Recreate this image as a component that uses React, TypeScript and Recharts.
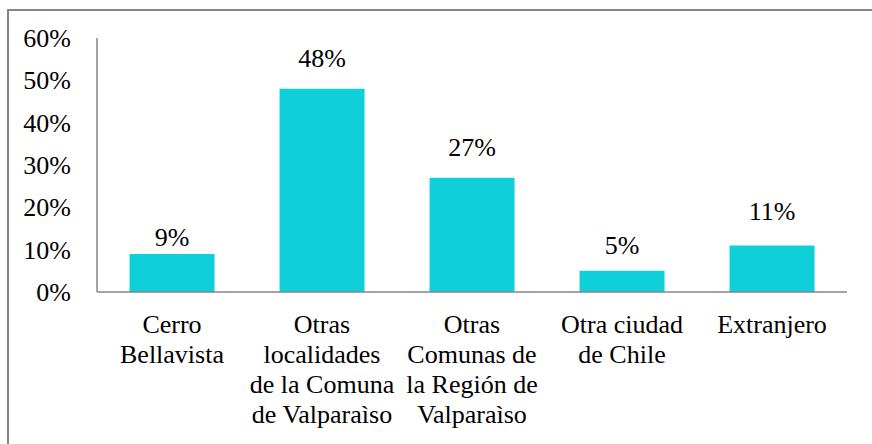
import React from 'react';
import { BarChart, Bar, XAxis, YAxis, LabelList } from 'recharts';

const FONT = '"Times New Roman", Times, "Liberation Serif", Tinos, "Noto Serif", "DejaVu Serif", serif';
const BAR_COLOR = '#0fd0d9';
const AXIS_COLOR = '#868686';

// categories (lines of each label) and values in percent
const categories = [
  'Cerro Bellavista',
  'Otras localidades de la Comuna de Valparaìso',
  'Otras Comunas de la Región de Valparaìso',
  'Otra ciudad de Chile',
  'Extranjero',
];
const categoryLines = [
  ['Cerro', 'Bellavista'],
  ['Otras', 'localidades', 'de la Comuna', 'de Valparaìso'],
  ['Otras', 'Comunas de', 'la Región de', 'Valparaìso'],
  ['Otra ciudad', 'de Chile'],
  ['Extranjero'],
];
const values = [9, 48, 27, 5, 11];
const yTicks = [0, 10, 20, 30, 40, 50, 60];

// gap between bar top and label baseline (labels were nudged by hand in the original)
const labelGaps = [8, 22, 22, 17, 25];

const data = categories.map((name, i) => ({ name, value: values[i] }));

const textStyle = { fill: '#000', fontFamily: FONT, fontSize: 26 };

function CategoryTick(props: any) {
  const { x, y, payload } = props;
  const idx = categories.indexOf(payload.value);
  const lines = idx >= 0 ? categoryLines[idx] : [payload.value];
  return (
    <text x={x} y={y} textAnchor="middle" style={textStyle}>
      {lines.map((line, i) => (
        <tspan key={i} x={x} y={y + 41 + i * 30}>
          {line}
        </tspan>
      ))}
    </text>
  );
}

function BarValueLabel(props: any) {
  const { x, y, width, value, index } = props;
  return (
    <text x={x + width / 2} y={y - labelGaps[index]} textAnchor="middle" style={textStyle}>
      {`${value}%`}
    </text>
  );
}

function YTick(props: any) {
  const { x, y, payload } = props;
  return (
    <text x={x} y={y} dy={9} textAnchor="end" style={textStyle}>
      {`${payload.value}%`}
    </text>
  );
}

export default function App() {
  return (
    <div style={{ position: 'absolute', left: 0, top: 0, width: 872, height: 444, background: '#fff', overflow: 'hidden', fontFamily: FONT }}>
      {/* outer frame, only top and left edges show in the picture */}
      <div
        style={{
          position: 'absolute',
          left: 7,
          top: 9,
          width: 870,
          height: 440,
          borderTop: `2px solid ${AXIS_COLOR}`,
          borderLeft: `2px solid ${AXIS_COLOR}`,
        }}
      />
      <div style={{ position: 'absolute', left: 0, top: 0 }}>
        <BarChart
          width={872}
          height={444}
          data={data}
          margin={{ top: 38, right: 25, bottom: 0, left: 0 }}
          barCategoryGap="21.7%"
        >
          <XAxis
            dataKey="name"
            height={152}
            axisLine={{ stroke: AXIS_COLOR, strokeWidth: 1.5 }}
            tickLine={false}
            tickSize={0}
            tickMargin={0}
            interval={0}
            tick={<CategoryTick />}
          />
          <YAxis
            width={97}
            domain={[0, 60]}
            ticks={yTicks}
            axisLine={{ stroke: AXIS_COLOR, strokeWidth: 1.5 }}
            tickLine={false}
            tickSize={0}
            tickMargin={26}
            tick={<YTick />}
          />
          <Bar dataKey="value" fill={BAR_COLOR} isAnimationActive={false}>
            <LabelList dataKey="value" content={<BarValueLabel />} />
          </Bar>
        </BarChart>
      </div>
    </div>
  );
}
